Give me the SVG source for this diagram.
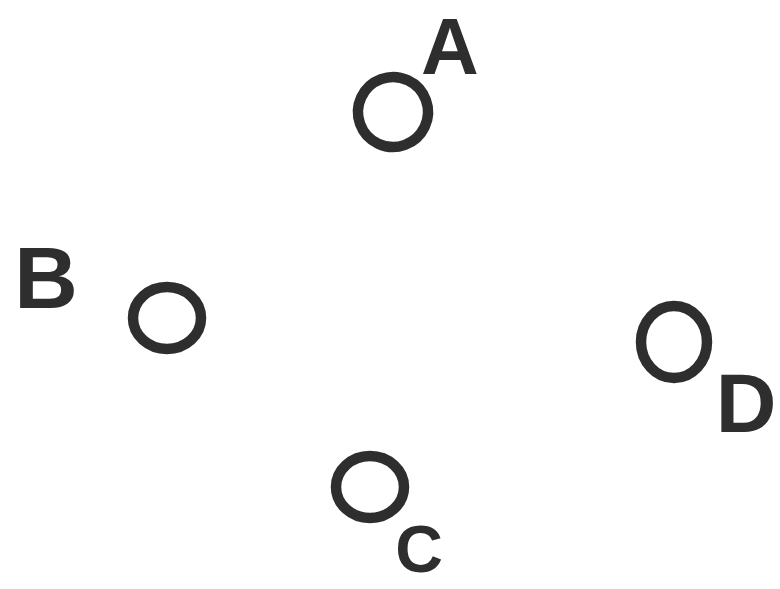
<svg xmlns="http://www.w3.org/2000/svg" width="780" height="589" viewBox="0 0 780 589">
<style>
.c{fill:none;stroke:#2e2e2e;stroke-width:10.5}
.t{font-family:"Liberation Sans",Arial,sans-serif;font-weight:bold;fill:#2e2e2e;text-anchor:middle}
</style>
<rect width="780" height="589" fill="#ffffff"/>
<g id="connectors"></g>
<g id="A">
<ellipse class="c" cx="393" cy="112" rx="35" ry="35" transform="rotate(-20 393 112)"/>
<text class="t" x="450" y="74" font-size="80">A</text>
</g>
<g id="B">
<ellipse class="c" cx="167" cy="318" rx="34" ry="31"/>
<text class="t" x="46" y="308" font-size="88">B</text>
</g>
<g id="D">
<ellipse class="c" cx="674" cy="342" rx="33" ry="36"/>
<text class="t" x="746" y="432" font-size="84">D</text>
</g>
<g id="C">
<ellipse class="c" cx="370" cy="487" rx="34" ry="31"/>
<text class="t" x="419" y="572" font-size="66">C</text>
</g>
</svg>
